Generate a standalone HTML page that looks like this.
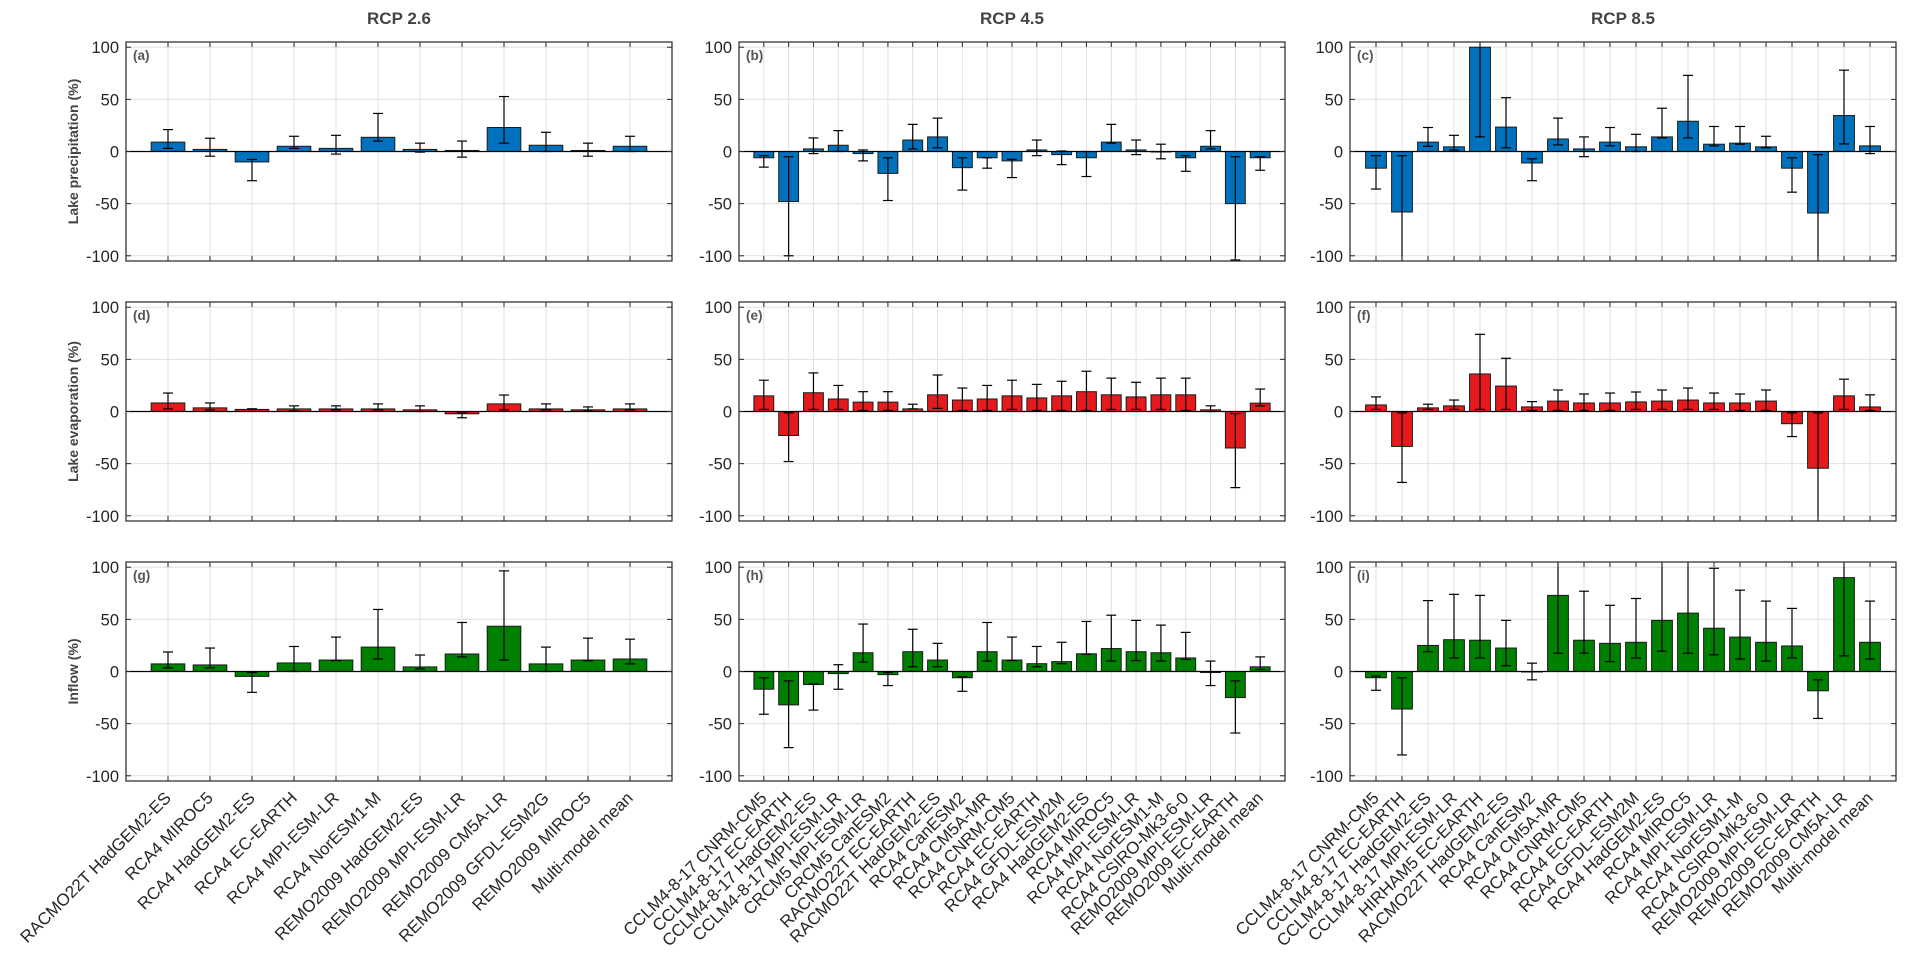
<!DOCTYPE html>
<html><head><meta charset="utf-8">
<style>
body{margin:0;background:#fff;}
svg{display:block;font-family:"Liberation Sans",Arial,sans-serif;}
</style></head>
<body>
<svg id="fig" width="1930" height="977" viewBox="0 0 1930 977" xmlns="http://www.w3.org/2000/svg"></svg>
<script>
// ---- categories ----
const labelsA = ["RACMO22T HadGEM2-ES","RCA4 MIROC5","RCA4 HadGEM2-ES","RCA4 EC-EARTH","RCA4 MPI-ESM-LR","RCA4 NorESM1-M","REMO2009 HadGEM2-ES","REMO2009 MPI-ESM-LR","REMO2009 CM5A-LR","REMO2009 GFDL-ESM2G","REMO2009 MIROC5","Multi-model mean"];
const labelsB = ["CCLM4-8-17 CNRM-CM5","CCLM4-8-17 EC-EARTH","CCLM4-8-17 HadGEM2-ES","CCLM4-8-17 MPI-ESM-LR","CRCM5 MPI-ESM-LR","CRCM5 CanESM2","RACMO22T EC-EARTH","RACMO22T HadGEM2-ES","RCA4 CanESM2","RCA4 CM5A-MR","RCA4 CNRM-CM5","RCA4 EC-EARTH","RCA4 GFDL-ESM2M","RCA4 HadGEM2-ES","RCA4 MIROC5","RCA4 MPI-ESM-LR","RCA4 NorESM1-M","RCA4 CSIRO-Mk3-6-0","REMO2009 MPI-ESM-LR","REMO2009 EC-EARTH","Multi-model mean"];
const labelsC = ["CCLM4-8-17 CNRM-CM5","CCLM4-8-17 EC-EARTH","CCLM4-8-17 HadGEM2-ES","CCLM4-8-17 MPI-ESM-LR","HIRHAM5 EC-EARTH","RACMO22T HadGEM2-ES","RCA4 CanESM2","RCA4 CM5A-MR","RCA4 CNRM-CM5","RCA4 EC-EARTH","RCA4 GFDL-ESM2M","RCA4 HadGEM2-ES","RCA4 MIROC5","RCA4 MPI-ESM-LR","RCA4 NorESM1-M","RCA4 CSIRO-Mk3-6-0","REMO2009 MPI-ESM-LR","REMO2009 EC-EARTH","REMO2009 CM5A-LR","Multi-model mean"];
const yTicks = [100,50,0,-50,-100];
const scenarioTitles = ["RCP 2.6","RCP 4.5","RCP 8.5"];
const rowTitles = ["Lake precipitation (%)","Lake evaporation (%)","Inflow (%)"];
const panelLetters = ["(a)","(b)","(c)","(d)","(e)","(f)","(g)","(h)","(i)"];

// ---- precipitation values / error lows / error highs ----
const precA = [9,2,-10,5,3,13.6,2,1,23,6,1,5];
const precALo = [3,-4.5,-28,3,-2.5,10,-0.6,-5.4,8,0,-4.5,0];
const precAHi = [21,12.7,-7.6,14.6,15.5,36.5,8,10,52.7,18.4,8,14.6];
const precB = [-6,-48,2.5,6,-2,-21,11,14,-15.5,-6,-9,1.5,-3,-6,9,1.5,0,-6,5,-50,-6];
const precBLo = [-15,-100,-2,0,-9,-47,2.5,3.5,-37,-16,-25,-4,-12.6,-24,8,-3,-7,-19,2.5,-104,-18];
const precBHi = [-4,-5,13,20,1.5,-6,26,32,-6,-6,-7.5,11,0.5,0,26,11,7,-4,20,-5,-5];
const precC = [-16,-58,9,4.5,100,23.4,-11,12,2.5,9,4.5,14,29,7,8,4.5,-16,-59,34.5,5.4];
const precCLo = [-36,-110,5,1.5,14,3.5,-28,6.3,-5,5.4,0,13,13,5.4,7,3.5,-39,-110,7.3,-2];
const precCHi = [-4,-4,23,15.5,130,51.6,-7,32,14,23,16.5,41.5,73,24,24,14.6,-6,-3,78,24];

// ---- evaporation ----
const evapA = [8.2,3.5,2,2.5,2.5,2.5,1.6,-2.2,7.3,2.5,1.6,2.5];
const evapALo = [2.5,1.6,2.5,0.6,1.6,1.6,0,-6,1.6,1.6,0.6,1.6];
const evapAHi = [17.7,8.2,2.5,5.4,5.4,7.3,5.4,-1.3,15.8,7.3,4.4,7.3];
const evapB = [15,-23,18,12,9,9,2.5,16,11,12,15,13,15,19,16,14,16,16,1.6,-35,8];
const evapBLo = [2,-48,2,2,1,1,2.5,3,1,1,2,1,1,1,2,2,2,1,0,-73,5.4];
const evapBHi = [30,-1.3,37,25,19,19,7,35,22.5,25,30,26,29,38.6,32,28,32,32,5.4,-2,21.5];
const evapC = [6.3,-33.5,3.5,5.4,36,24.4,4.4,10,8.2,8.2,9.2,10,11,8.2,8.2,10,-11.7,-54.4,15,4.4];
const evapCLo = [2,-68,2,2,2,2,1,1,1,1,2,2,2,2,1,1,-24,-110,2,1];
const evapCHi = [14,-1.3,7,11,74,51,9.5,20.6,16.8,17.7,18.7,20.6,22.5,17.7,16.8,20.6,-1.3,-1.3,31,16];

// ---- inflow ----
const inflA = [7.3,6.3,-4.7,8.2,11,23.4,4.4,16.8,43.4,7.3,11,12];
const inflALo = [3.5,3.5,-20,0,10.4,12,2.5,14,11,0,10.4,7.3];
const inflAHi = [18.7,22.5,-1,24,33,59.5,15.8,47,96.5,23.4,32,31];
const inflB = [-17,-32,-12.5,-2,18,-3,19,11,-6,19,11,7.5,9.5,17,22,19,18,13,-1,-25,4.5];
const inflBLo = [-41,-73,-37,-17,9,-13.5,4.5,4.5,-19,10,10.5,4.5,7.5,16.5,10,10.5,10,11.5,-13.5,-59,2];
const inflBHi = [-6,-9,-12,6.5,45.5,-1,40.5,27,-5,47,33,24,28,48,54,49,44.5,37.5,10,-9,14];
const inflC = [-6,-36,25,30.5,30,22.5,0,73,30,27,28,49,56,41.5,33,28,24.5,-18.5,90,28];
const inflCLo = [-18,-80,19,13,13,5.5,-8,17.5,17.5,9.5,13,19.5,17.5,16,12,10,13,-45,15,12];
const inflCHi = [-4.5,-6,68,74,73,49,8,120,77,63.5,70,120,120,99,78,67.5,60.5,-8,120,67.5];

const NS = "http://www.w3.org/2000/svg";
const svg = document.getElementById("fig");
function mk(tag, attrs, parent){
  const e = document.createElementNS(NS, tag);
  for (const k in attrs) e.setAttribute(k, attrs[k]);
  (parent||svg).appendChild(e);
  return e;
}

const colLeft = [126, 739, 1350];
const panelW = 546;
const rowTop = [42, 302, 562];
const panelH = 219;
const YMIN = -105, YMAX = 105;
const colors = ["#0072BD","#E41A1C","#008000"];
const labelSets = [labelsA, labelsB, labelsC];
const series = [
  [[precA,precALo,precAHi],[precB,precBLo,precBHi],[precC,precCLo,precCHi]],
  [[evapA,evapALo,evapAHi],[evapB,evapBLo,evapBHi],[evapC,evapCLo,evapCHi]],
  [[inflA,inflALo,inflAHi],[inflB,inflBLo,inflBHi],[inflC,inflCLo,inflCHi]]
];

const defs = mk("defs", {});
for (let r=0;r<3;r++) for (let c=0;c<3;c++){
  const cp = mk("clipPath",{id:"clip"+r+c},defs);
  mk("rect",{x:colLeft[c],y:rowTop[r],width:panelW,height:panelH},cp);
}

for (let c=0;c<3;c++){
  const t = mk("text",{x:colLeft[c]+panelW/2,y:24,"text-anchor":"middle","font-size":"17","font-weight":"bold",fill:"#444"});
  
  
  t.textContent = scenarioTitles[c];
}

for (let r=0;r<3;r++){
  const cy = rowTop[r]+panelH/2;
  const yt = mk("text",{x:0,y:0,transform:`translate(78,${cy}) rotate(-90)`,"text-anchor":"middle","font-size":"14","font-weight":"bold",fill:"#444"});
  
  
  yt.textContent = rowTitles[r];

  for (let c=0;c<3;c++){
    const L = colLeft[c], T = rowTop[r];
    const labels = labelSets[c];
    const n = labels.length;
    const xmax = n+1;
    const xs = i => L + (i+1)/xmax*panelW;
    const ys = v => T + (YMAX - v)/(YMAX-YMIN)*panelH;
    const unit = panelW/xmax;
    const g = mk("g",{});
    
    
    for (const v of yTicks){
      mk("line",{x1:L,x2:L+panelW,y1:ys(v),y2:ys(v),stroke:"#e0e0e0","stroke-width":1},g);
    }
    for (let i=0;i<n;i++){
      mk("line",{x1:xs(i),x2:xs(i),y1:T,y2:T+panelH,stroke:"#e0e0e0","stroke-width":1},g);
    }
    const [vals, lo, hi] = series[r][c];
    const bg = mk("g",{"clip-path":`url(#clip${r}${c})`},g);
    for (let i=0;i<n;i++){
      const v = vals[i];
      const y0 = ys(0), y1 = ys(v);
      const b = mk("rect",{x:xs(i)-0.4*unit,y:Math.min(y0,y1),width:0.8*unit,height:Math.max(Math.abs(y1-y0),0.5),fill:colors[r],stroke:"#1a1a1a","stroke-width":1},bg);
      
      
    }
    mk("line",{x1:L,x2:L+panelW,y1:ys(0),y2:ys(0),stroke:"#000","stroke-width":1.2},bg);
    for (let i=0;i<n;i++){
      const x = xs(i), yl = ys(lo[i]), yh = ys(hi[i]);
      const e = mk("g",{},bg);
      
      
      mk("line",{x1:x,x2:x,y1:yl,y2:yh,stroke:"#000","stroke-width":1.2},e);
      const cw = Math.min(5, unit*0.2);
      mk("line",{x1:x-cw,x2:x+cw,y1:yl,y2:yl,stroke:"#000","stroke-width":1.2},e);
      mk("line",{x1:x-cw,x2:x+cw,y1:yh,y2:yh,stroke:"#000","stroke-width":1.2},e);
    }
    for (let i=0;i<n;i++){
      mk("line",{x1:xs(i),x2:xs(i),y1:T+panelH,y2:T+panelH-5,stroke:"#262626","stroke-width":1},g);
      mk("line",{x1:xs(i),x2:xs(i),y1:T,y2:T+5,stroke:"#262626","stroke-width":1},g);
    }
    for (const v of yTicks){
      mk("line",{x1:L,x2:L+5,y1:ys(v),y2:ys(v),stroke:"#262626","stroke-width":1},g);
      mk("line",{x1:L+panelW,x2:L+panelW-5,y1:ys(v),y2:ys(v),stroke:"#262626","stroke-width":1},g);
      const tl = mk("text",{x:L-7,y:ys(v)+6,"text-anchor":"end","font-size":"16.5",fill:"#262626"},g);
      
      
      tl.textContent = v;
    }
    mk("rect",{x:L,y:T,width:panelW,height:panelH,fill:"none",stroke:"#262626","stroke-width":1.2},g);
    const lt = mk("text",{x:L+7,y:T+18,"font-size":"13.5","font-weight":"bold",fill:"#555"},g);
    
    
    lt.textContent = panelLetters[r*3+c];
    if (r===2){
      for (let i=0;i<n;i++){
        const x = xs(i), y = T+panelH+14;
        const xl = mk("text",{x:0,y:0,transform:`translate(${x+4},${y+4}) rotate(-45)`,"text-anchor":"end","font-size":"17",fill:"#262626"},g);
        
        
        xl.textContent = labels[i];
      }
    }
  }
}
</script>
</body></html>
